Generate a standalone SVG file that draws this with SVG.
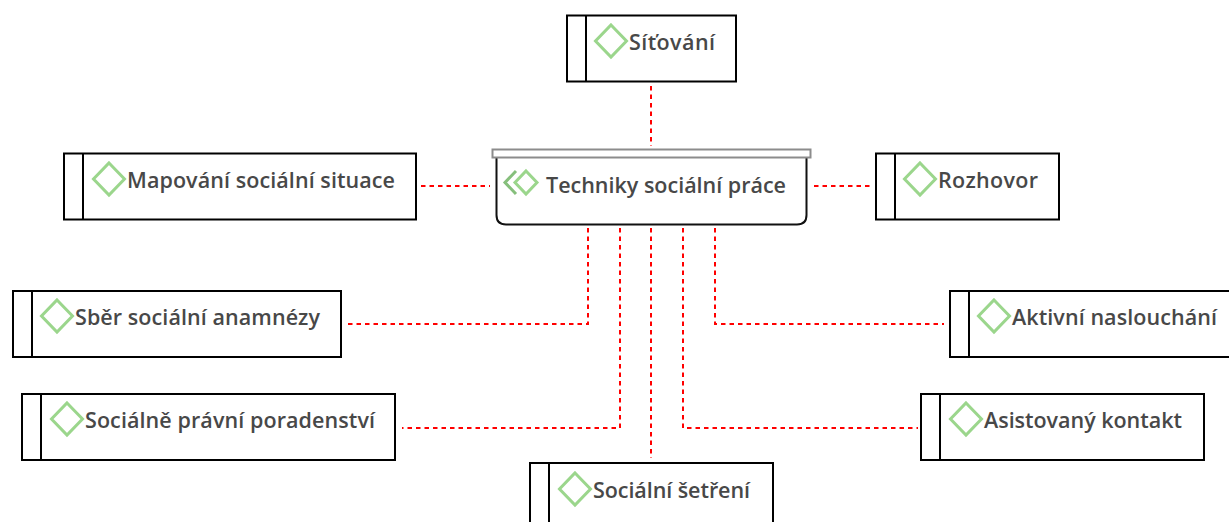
<svg xmlns="http://www.w3.org/2000/svg" width="1229" height="522" viewBox="0 0 1229 522">
<style>
.b{fill:#fff;stroke:#000;stroke-width:2}
.d{fill:none;stroke:#9bd68c;stroke-width:3}
.t{font-family:"Open Sans","Noto Sans",sans-serif;font-weight:600;font-size:21.500px;fill:#484848}
.c{fill:none;stroke:#f00;stroke-width:2;stroke-dasharray:4.500 4}
</style>
<defs><g id="n"><path class="d" d="M0 -16L15.500 0L0 16L-15.500 0Z"/></g></defs>
<rect width="1229" height="522" fill="#fff"/>
<g id="connectors">
<path class="c" d="M651 86V146"/>
<path class="c" d="M421 186H490"/>
<path class="c" d="M814 186H870"/>
<path class="c" d="M588 228V324H345"/>
<path class="c" d="M620 228V428H402"/>
<path class="c" d="M651 228V458"/>
<path class="c" d="M683 228V428H918"/>
<path class="c" d="M715 228V324H944"/>
</g>
<g id="center">
<path d="M496.500 150V215Q496.500 224.500 506 224.500H797Q806.500 224.500 806.500 215V150Z" fill="#fff" stroke="#111" stroke-width="2"/>
<rect x="492.500" y="149.500" width="318" height="8" fill="#fff" stroke="#8c8c8c" stroke-width="2"/>
<path d="M516 171L505 182.500L516 194" fill="none" stroke="#86bf7c" stroke-width="3"/>
<path d="M526 171L537 182.500L526 194L515 182.500Z" fill="none" stroke="#9bd68c" stroke-width="3"/>
<text class="t" x="546" y="193" textLength="240">Techniky sociální práce</text>
</g>
<g id="sitovani"><rect class="b" x="567" y="15.500" width="169" height="66"/><path class="b" d="M586 15.500V81.500"/><use href="#n" x="611" y="41"/><text class="t" x="629" y="50" textLength="86">Síťování</text></g>
<g id="mapovani"><rect class="b" x="64" y="153.500" width="352" height="66"/><path class="b" d="M83 153.500V219.500"/><use href="#n" x="109" y="179"/><text class="t" x="127" y="188" textLength="268">Mapování sociální situace</text></g>
<g id="rozhovor"><rect class="b" x="876" y="153.500" width="183" height="66"/><path class="b" d="M895 153.500V219.500"/><use href="#n" x="920" y="179"/><text class="t" x="938" y="188" textLength="100">Rozhovor</text></g>
<g id="sber"><rect class="b" x="13" y="291" width="328" height="66"/><path class="b" d="M32 291V357"/><use href="#n" x="57" y="316"/><text class="t" x="75" y="325" textLength="245">Sběr sociální anamnézy</text></g>
<g id="aktivni"><rect class="b" x="950" y="291" width="285" height="66"/><path class="b" d="M969 291V357"/><use href="#n" x="994" y="316"/><text class="t" x="1012" y="325" textLength="205">Aktivní naslouchání</text></g>
<g id="pravni"><rect class="b" x="22" y="394" width="373" height="66"/><path class="b" d="M41 394V460"/><use href="#n" x="67" y="419"/><text class="t" x="85" y="428" textLength="290">Sociálně právní poradenství</text></g>
<g id="asistovany"><rect class="b" x="921" y="394" width="283" height="66"/><path class="b" d="M940 394V460"/><use href="#n" x="966" y="419"/><text class="t" x="984" y="428" textLength="198">Asistovaný kontakt</text></g>
<g id="setreni"><rect class="b" x="530" y="463" width="243" height="66"/><path class="b" d="M549 463V529"/><use href="#n" x="575" y="489"/><text class="t" x="593" y="498" textLength="157">Sociální šetření</text></g>
</svg>
